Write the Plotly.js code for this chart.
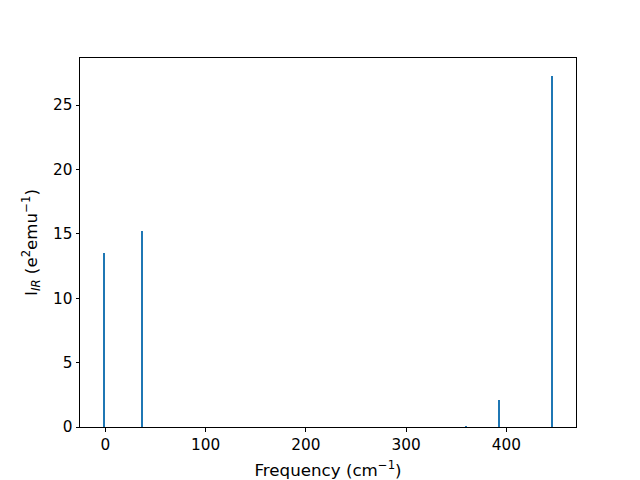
<!DOCTYPE html>
<html>
<head>
<meta charset="utf-8">
<script src="https://cdn.plot.ly/plotly-3.0.1.min.js"></script>
<style>html,body{margin:0;padding:0;background:#fff}</style>
</head>
<body>
<div id="chart" style="width:640px;height:480px"></div>
<script>
const frequencies = [-1.6, 37.1, 360.0, 392.7, 445.6];
const intensities = [13.5, 15.2, 0.1, 2.1, 27.3];
const xTicks = [0, 100, 200, 300, 400];
const yTicks = [0, 5, 10, 15, 20, 25];

const trace = {
  type: 'bar',
  x: frequencies,
  y: intensities,
  width: 2,
  marker: {color: '#1f77b4', line: {width: 0}},
  hoverinfo: 'x+y'
};

const axisCommon = {
  showline: true, mirror: true, linecolor: '#000', linewidth: 1,
  ticks: 'outside', ticklen: 3.5, tickwidth: 1, tickcolor: '#000',
  showgrid: false, zeroline: false,
  tickfont: {family: 'DejaVu Sans', size: 15.3, color: '#000'}
};

const layout = {
  width: 640, height: 480,
  margin: {l: 80, r: 64, t: 58, b: 53},
  paper_bgcolor: '#fff', plot_bgcolor: '#fff',
  showlegend: false,
  bargap: 0,
  font: {family: 'DejaVu Sans', color: '#000'},
  xaxis: Object.assign({}, axisCommon, {
    range: [-25.2, 469.5],
    tickvals: xTicks,
    ticktext: xTicks.map(String),
    title: {text: 'Frequency (cm<sup>\u22121</sup>)', font: {family: 'DejaVu Sans', size: 16.7, color: '#000'}, standoff: 11}
  }),
  yaxis: Object.assign({}, axisCommon, {
    range: [0, 28.66],
    tickvals: yTicks,
    ticktext: yTicks.map(String),
    title: {text: 'I<sub><i>IR</i></sub> (e<sup>2</sup>emu<sup>\u22121</sup>)', font: {family: 'DejaVu Sans', size: 16.7, color: '#000'}, standoff: 11}
  })
};

Plotly.newPlot('chart', [trace], layout, {displayModeBar: false, staticPlot: true});
</script>
</body>
</html>
